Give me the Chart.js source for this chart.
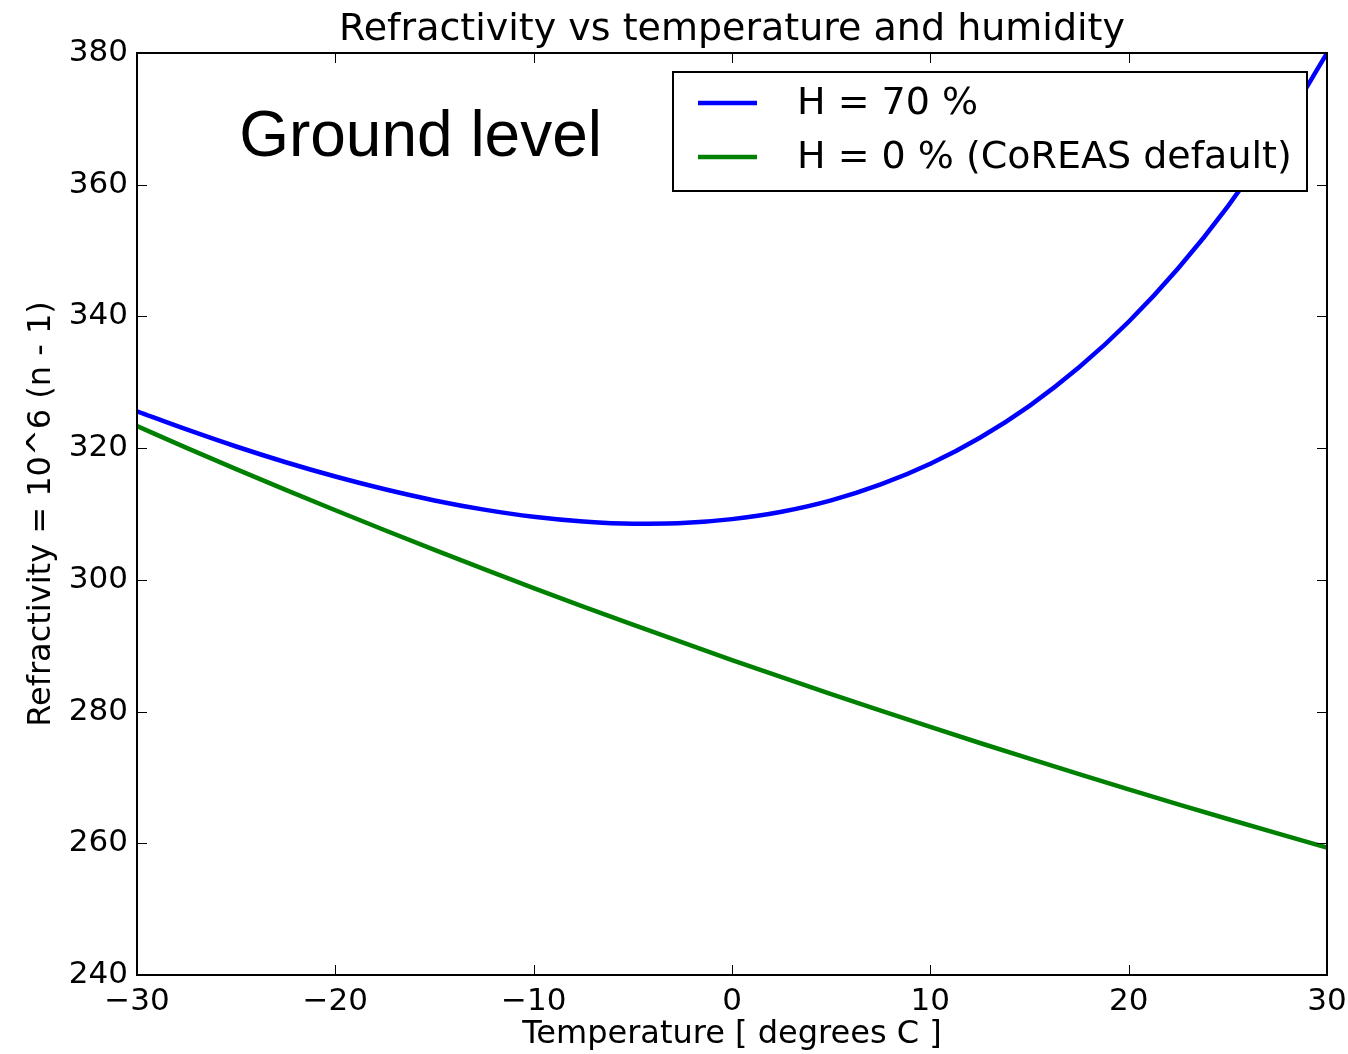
<!DOCTYPE html>
<html>
<head>
<meta charset="utf-8">
<title>Refractivity vs temperature and humidity</title>
<script src="https://cdn.jsdelivr.net/npm/chart.js@4.4.1/dist/chart.umd.min.js"></script>
<style>
  html, body { margin: 0; padding: 0; background: #fff; }
  #wrap { width: 1348px; height: 1054px; }
</style>
</head>
<body>
<div id="wrap"><canvas id="myChart"></canvas></div>
<script>
// temperature in degrees C
const temperaturas = [-30, -27.5, -25, -22.5, -20, -17.5, -15, -12.5, -10, -7.5, -5, -2.5,
  0, 2.5, 5, 7.5, 10, 12.5, 15, 17.5, 20, 22.5, 25, 27.5, 30]
// refractivity at 70 % humidity
const umido = [325.59, 322.84, 320.25, 317.86, 315.69, 313.75, 312.06, 310.66, 309.57, 308.85, 308.51, 308.62,
  309.22, 310.35, 312.08, 314.49, 317.63, 321.58, 326.43, 332.27, 339.19, 347.31, 356.72, 367.57, 379.96]
// refractivity of dry air (CoREAS default)
const seco = [323.34, 320.05, 316.82, 313.66, 310.57, 307.53, 304.55, 301.63, 298.76, 295.95, 293.19, 290.49,
  287.83, 285.22, 282.65, 280.14, 277.66, 275.23, 272.84, 270.50, 268.19, 265.92, 263.69, 261.50, 259.34]

const ticksX = [-30, -20, -10, 0, 10, 20, 30]
const ticksY = [240, 260, 280, 300, 320, 340, 360, 380]

const fonte = 'DejaVu Sans'
const menos = v => String(v).replace('-', '\u2212')

const pontos = ys => temperaturas.map((t, i) => ({ x: t, y: ys[i] }))

// frame, inward ticks, title, legend and the "Ground level" note
const moldura = {
  id: 'moldura',
  afterDatasetsDraw(chart) {
    const { ctx, chartArea: a, scales } = chart
    ctx.save()
    ctx.strokeStyle = '#000'
    ctx.lineWidth = 2
    ctx.strokeRect(a.left, a.top, a.right - a.left, a.bottom - a.top)

    ctx.lineWidth = 1
    ctx.beginPath()
    ticksX.forEach(v => {
      const px = Math.round(scales.x.getPixelForValue(v)) + 0.5
      ctx.moveTo(px, a.bottom); ctx.lineTo(px, a.bottom - 10)
      ctx.moveTo(px, a.top); ctx.lineTo(px, a.top + 10)
    })
    ticksY.forEach(v => {
      const py = Math.round(scales.y.getPixelForValue(v)) + 0.5
      ctx.moveTo(a.left, py); ctx.lineTo(a.left + 10, py)
      ctx.moveTo(a.right, py); ctx.lineTo(a.right - 10, py)
    })
    ctx.stroke()

    ctx.fillStyle = '#000'
    ctx.font = '38px "' + fonte + '"'
    ctx.textAlign = 'center'
    ctx.textBaseline = 'alphabetic'
    ctx.fillText('Refractivity vs temperature and humidity', (a.left + a.right) / 2, a.top - 13)

    ctx.font = '64px "Liberation Sans"'
    ctx.textAlign = 'left'
    ctx.fillText('Ground level', scales.x.getPixelForValue(-24.85), scales.y.getPixelForValue(364.4))

    // legend box
    const lx = 673, ly = 72, lw = 634, lh = 119
    ctx.fillStyle = '#fff'
    ctx.fillRect(lx, ly, lw, lh)
    ctx.lineWidth = 2
    ctx.strokeStyle = '#000'
    ctx.strokeRect(lx, ly, lw, lh)
    const itens = [
      { cor: '#0000ff', texto: 'H = 70 %', y: 103 },
      { cor: '#008000', texto: 'H = 0 % (CoREAS default)', y: 157 }
    ]
    ctx.font = '38px "' + fonte + '"'
    ctx.textBaseline = 'middle'
    itens.forEach(it => {
      ctx.strokeStyle = it.cor
      ctx.lineWidth = 4.5
      ctx.beginPath()
      ctx.moveTo(698, it.y); ctx.lineTo(757, it.y)
      ctx.stroke()
      ctx.fillStyle = '#000'
      ctx.fillText(it.texto, 797, it.y + 1)
    })
    ctx.restore()
  }
}

const ctx = document.getElementById('myChart')

const grafico = new Chart(ctx, {
  type: 'line',
  data: {
    datasets: [
      { label: 'H = 70 %', data: pontos(umido), borderColor: '#0000ff', borderWidth: 4.5 },
      { label: 'H = 0 % (CoREAS default)', data: pontos(seco), borderColor: '#008000', borderWidth: 4.5 }
    ]
  },
  options: {
    responsive: true,
    maintainAspectRatio: false,
    animation: false,
    layout: { padding: { top: 53, right: 21, left: 0, bottom: 0 } },
    elements: {
      point: { radius: 0 },
      line: { cubicInterpolationMode: 'monotone', fill: false }
    },
    plugins: {
      legend: { display: false },
      title: { display: false },
      tooltip: { enabled: false }
    },
    scales: {
      x: {
        type: 'linear',
        min: -30,
        max: 30,
        afterFit: s => { s.height = 79; s.paddingLeft = 0; s.paddingRight = 0 },
        afterBuildTicks: s => { s.ticks = ticksX.map(v => ({ value: v })) },
        grid: { display: false, drawTicks: false },
        border: { display: false },
        ticks: {
          color: '#000',
          padding: 8,
          maxRotation: 0,
          font: { family: fonte, size: 31 },
          callback: v => menos(v)
        },
        title: {
          display: true,
          text: 'Temperature [ degrees C ]',
          color: '#000',
          font: { family: fonte, size: 32 },
          padding: { top: 0, bottom: 0 }
        }
      },
      y: {
        min: 240,
        max: 380,
        afterFit: s => { s.width = 137 },
        afterBuildTicks: s => { s.ticks = ticksY.map(v => ({ value: v })) },
        grid: { display: false, drawTicks: false },
        border: { display: false },
        ticks: {
          color: '#000',
          padding: 9,
          font: { family: fonte, size: 31 },
          callback: v => menos(v)
        },
        title: {
          display: true,
          text: 'Refractivity = 10^6 (n - 1)',
          color: '#000',
          font: { family: fonte, size: 32 },
          padding: { top: 22, bottom: 0 }
        }
      }
    }
  },
  plugins: [moldura]
})
</script>
</body>
</html>
